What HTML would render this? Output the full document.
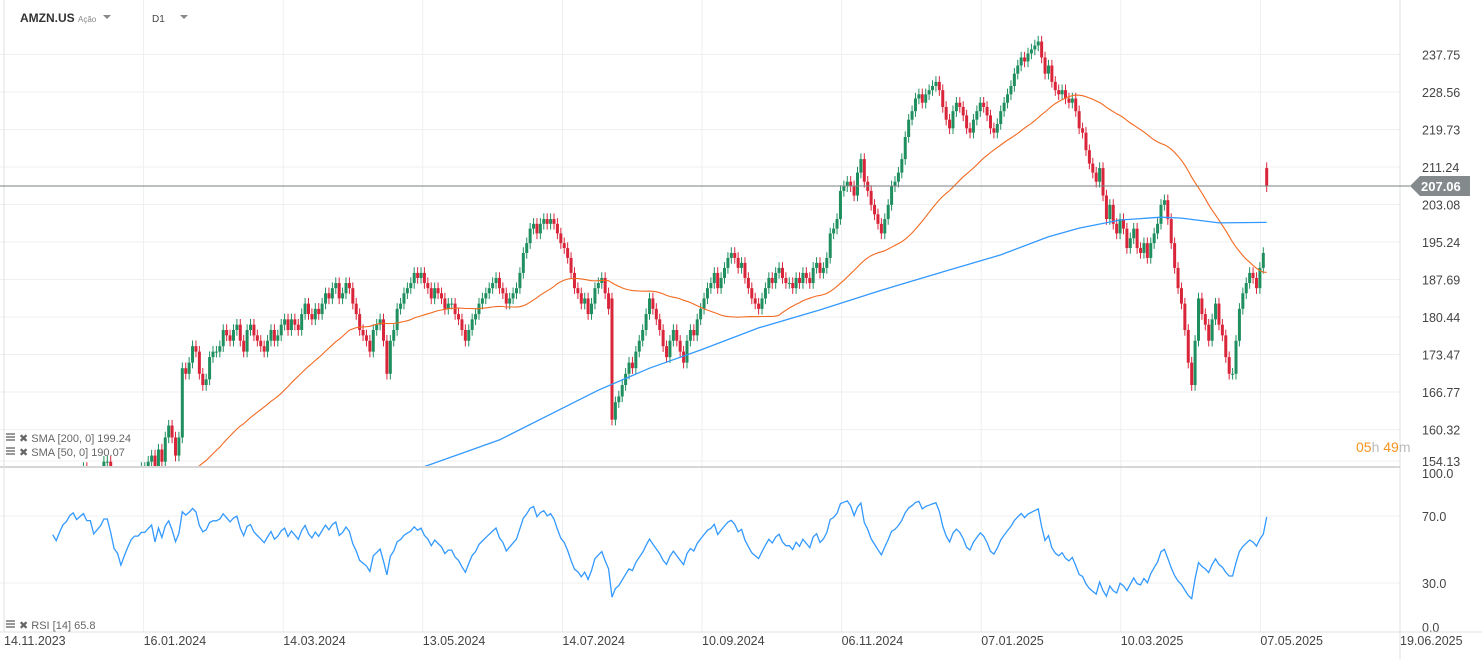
<!DOCTYPE html>
<html><head><meta charset="utf-8">
<style>
body{margin:0;background:#fff;font-family:"Liberation Sans",sans-serif;}
#wrap{position:relative;width:1482px;height:659px;overflow:hidden;}
svg text{font-family:"Liberation Sans",sans-serif;}
</style></head>
<body>
<div id="wrap">
<svg id="chart" width="1482" height="659"></svg>
</div>
<script>
const closes = [143,145,146,144,145,147,146,147,146,147,
146,146,147,148,146,145,147,149,150,152,
153,152,153,154,153,153,151,152,153,155,
155,153,150,149,146,148,150,152,153,153,
154,154,155,156,153,157,155,159,161,159,
156,159,171,170,172,175,174,170,168,169,
173,174,174,175,178,177,176,178,179,176,
174,178,179,177,176,175,174,176,178,176,
177,179,180,178,180,179,178,181,183,181,
180,182,181,183,185,184,186,187,184,185,
187,186,183,181,178,177,176,174,178,179,
180,176,170,176,178,182,183,185,186,187,
189,188,189,187,186,184,186,185,184,182,
183,183,181,180,178,176,178,180,181,183,
184,185,186,187,188,186,185,183,184,185,
186,189,193,195,198,199,197,199,200,199,
200,199,197,195,194,192,189,186,185,183,
184,181,183,186,187,188,185,182,162,165,
166,168,170,172,171,174,176,178,181,184,
182,180,178,175,173,176,178,176,174,172,
176,178,177,180,182,184,186,187,189,186,
188,190,192,193,192,190,191,188,186,184,
183,182,184,186,188,187,189,190,188,187,
187,186,188,187,189,188,187,190,191,189,
190,192,197,198,200,206,207,208,207,205,
210,213,208,206,203,201,199,197,200,203,
207,208,210,213,218,222,224,227,228,226,
228,229,230,231,229,225,222,220,224,226,
225,223,220,219,222,224,226,225,223,220,
219,221,224,226,228,230,233,235,237,236,
238,239,240,241,237,233,235,231,229,228,
229,227,226,227,224,220,219,215,212,210,
208,211,205,200,203,199,197,200,198,194,
196,198,194,193,195,192,195,197,199,203,
204,200,195,190,186,183,178,172,168,176,
184,181,179,176,180,183,179,177,173,170,
170,176,182,185,187,189,188,186,190,193,207];
const gapOpenIdx = [178,370];
const gapOpenVal = [184,211];
const sma200Idx = [123,145,174,189,204,221,239,257,277,292,306,315,327,339,345,356,370];
const sma200Val = [154.2,158.6,167.1,171.0,174.3,178.4,181.8,185.6,189.6,192.6,196.3,198.1,199.8,200.4,200.2,199.2,199.3];
const priceTicks = [237.75,228.56,219.73,211.24,203.08,195.24,187.69,180.44,173.47,166.77,160.32,154.13];
const rsiTicks = [100.0,70.0,30.0,0.0];
const dateLabels = ["14.11.2023","16.01.2024","14.03.2024","13.05.2024","14.07.2024","10.09.2024","06.11.2024","07.01.2025","10.03.2025","07.05.2025","19.06.2025"];
const lastPrice = 207.06;

const svg = document.getElementById('chart');
const NS = 'http://www.w3.org/2000/svg';
function mk(tag, attrs, parent){const e=document.createElementNS(NS,tag);for(const k in attrs)e.setAttribute(k,attrs[k]);(parent||svg).appendChild(e);return e;}
const X = i => 5 + i*3.41;
const Y = p => 167 + (Math.log(211.24) - Math.log(p))*952;
const RY = v => 516 + (70 - v)*1.675;
const GREEN='#1f8f5f', RED='#d9253a';

priceTicks.forEach((t,k)=>{
  const y = k===priceTicks.length-1 ? 461 : Y(t);
  const l = mk('line',{x1:0,x2:1400,y1:y,y2:y,stroke:'#efefef'});
  
  
  const tx = mk('text',{x:1422,y:y+5,'font-size':12.5,fill:'#444'});
  tx.textContent = t.toFixed(2);
  
  
});
[70,30].forEach(v=>{
  const l=mk('line',{x1:0,x2:1400,y1:RY(v),y2:RY(v),stroke:'#efefef'});
  
  
});
const rsiLabY=[473,516,583,627];
rsiTicks.forEach((t,k)=>{
  const tx = mk('text',{x:1422,y:rsiLabY[k]+5,'font-size':12.5,fill:'#444'});
  tx.textContent = t.toFixed(1);
  
  
});
dateLabels.forEach((d,k)=>{
  const x = 4 + k*139.6;
  const l=mk('line',{x1:x,x2:x,y1:0,y2:632,stroke:'#efefef'});
  
  
  const tx=mk('text',{x:x,y:645,'font-size':12.5,fill:'#444'});
  tx.textContent=d;
  
  
});
let b=mk('line',{x1:1400,x2:1400,y1:0,y2:659,stroke:'#e0e0e0'});


b=mk('line',{x1:0,x2:1400,y1:467,y2:467,stroke:'#c8c8c8','stroke-width':1.5});


b=mk('line',{x1:0,x2:1482,y1:632,y2:632,stroke:'#e0e0e0'});


b=mk('line',{x1:4,x2:4,y1:0,y2:632,stroke:'#e0e0e0'});



const defs=mk('defs',{});
const cp=mk('clipPath',{id:'mainclip'},defs);
mk('rect',{x:0,y:0,width:1400,height:466},cp);
const main=mk('g',{'clip-path':'url(#mainclip)'});



closes.forEach((c,i)=>{
  let o = i>0 ? closes[i-1] : c;
  const gi = gapOpenIdx.indexOf(i);
  if(gi>=0) o = gapOpenVal[gi];
  const hi = Math.max(o,c)*1.006, lo=Math.min(o,c)*0.994;
  const col = c>=o?GREEN:RED;
  const x=X(i);
  const w=mk('line',{x1:x,x2:x,y1:Y(hi),y2:Y(lo),stroke:col,'stroke-width':1},main);
  
  
  const y1=Y(Math.max(o,c)), y2=Y(Math.min(o,c));
  const r=mk('rect',{x:x-1.5,y:y1,width:3,height:Math.max(1,y2-y1),fill:col},main);
  
  
});

const pts50=[];
for(let i=49;i<closes.length;i++){let s=0;for(let j=i-49;j<=i;j++)s+=closes[j];pts50.push(X(i).toFixed(1)+','+Y(s/50).toFixed(1));}
const s50=mk('polyline',{points:pts50.join(' '),fill:'none',stroke:'#f26a21','stroke-width':1.1},main);


const s200=mk('polyline',{points:sma200Idx.map((ix,k)=>X(ix).toFixed(1)+','+Y(sma200Val[k]).toFixed(1)).join(' '),fill:'none',stroke:'#3399ff','stroke-width':1.3},main);



const ly=Y(lastPrice);
b=mk('line',{x1:0,x2:1410,y1:ly,y2:ly,stroke:'#7a7f80','stroke-width':1});


b=mk('path',{d:`M1410 ${ly} L1420 ${ly-10} L1470 ${ly-10} L1470 ${ly+10} L1420 ${ly+10} Z`,fill:'#848a8c'});


b=mk('text',{x:1421,y:ly+5,'font-size':13,fill:'#fff','font-weight':'bold'});
b.textContent=lastPrice.toFixed(2);



b=mk('text',{x:1356,y:452,'font-size':14});
b.innerHTML='<tspan fill="#f7931e">05</tspan><tspan fill="#bbb">h </tspan><tspan fill="#f7931e">49</tspan><tspan fill="#bbb">m</tspan>';



const rsi=[];
let ag=0,al=0;
for(let i=1;i<closes.length;i++){
  const d=closes[i]-closes[i-1], g=Math.max(d,0), l=Math.max(-d,0);
  if(i<=14){ag+=g/14;al+=l/14; if(i<14)continue;}
  else{ag=(ag*13+g)/14;al=(al*13+l)/14;}
  rsi.push([i, al===0?100:100-100/(1+ag/al)]);
}
b=mk('polyline',{points:rsi.map(p=>X(p[0]).toFixed(1)+','+RY(p[1]).toFixed(1)).join(' '),fill:'none',stroke:'#3399ff','stroke-width':1.3});



function legend(y,txt,name){
  const g=mk('g',{});
  
  
  mk('rect',{x:6,y:y-8,width:9,height:2,fill:'#999'},g);
  mk('rect',{x:6,y:y-5,width:9,height:2,fill:'#999'},g);
  mk('rect',{x:6,y:y-2,width:9,height:2,fill:'#999'},g);
  const t=mk('text',{x:19,y:y+1,'font-size':11,fill:'#666'},g);
  t.textContent='✖ '+txt;
}
legend(441,'SMA  [200,  0]  199.24','sma-200-legend');
legend(455,'SMA  [50,  0]  190.07','sma-50-legend');
legend(628,'RSI  [14]  65.8','rsi-legend');

b=mk('text',{x:20,y:22,'font-size':12,'font-weight':'bold',fill:'#333'});
b.textContent='AMZN.US';


b=mk('text',{x:78,y:22,'font-size':8,fill:'#888'});
b.textContent='Ação';


b=mk('path',{d:'M103 15 L111 15 L107 19 Z',fill:'#888'});


b=mk('text',{x:152,y:22,'font-size':10,fill:'#444'});
b.textContent='D1';


b=mk('path',{d:'M180 15 L188 15 L184 19 Z',fill:'#888'});


</script>
</body></html>
